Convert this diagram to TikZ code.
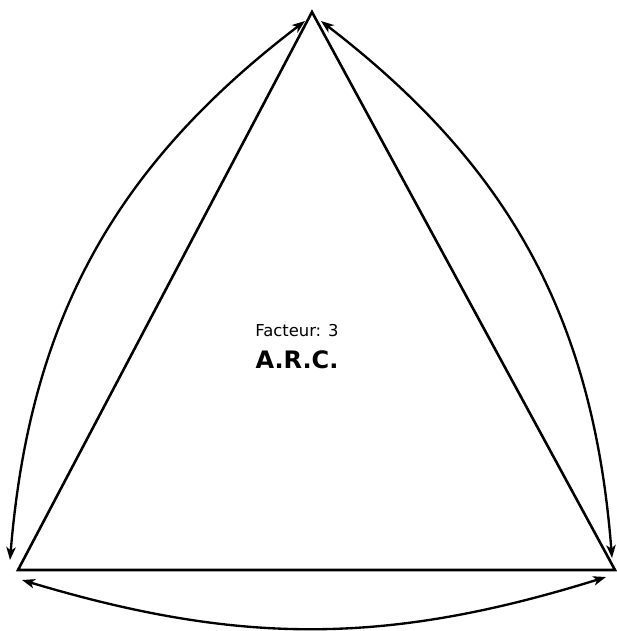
\documentclass[tikz,border=0pt]{standalone}
\usepackage{fontspec}
\setmainfont{DejaVu Sans}
\usetikzlibrary{arrows.meta}
\begin{document}
\begin{tikzpicture}[x=0.03cm, y=-0.03cm,
  edge/.style={line width=2.2pt, line join=miter},
  link/.style={line width=2pt, {Stealth[length=11pt,width=8pt,inset=3pt]}-{Stealth[length=11pt,width=8pt,inset=3pt]}}]
  \useasboundingbox (0,0) rectangle (617,631);
  % corners of the triangle
  \coordinate (apex) at (312,12);
  \coordinate (left) at (18,570);
  \coordinate (right) at (615,570);
  \draw[edge] (apex) -- (left) -- (right) -- cycle;
  % arrow ends
  \coordinate (apexL) at (305,21);
  \coordinate (apexR) at (321,21);
  \coordinate (leftT) at (10,560);
  \coordinate (leftB) at (22,580);
  \coordinate (rightT) at (612,558);
  \coordinate (rightB) at (606,577);
  \draw[link] (apexL) to[bend right=24] (leftT);
  \draw[link] (apexR) to[bend left=24] (rightT);
  \draw[link] (leftB) to[bend right=17] (rightB);
  % labels
  \node[font=\fontsize{14}{15}\selectfont] (factor) at (297,331) {Facteur: 3};
  \node[font=\fontsize{20.5}{24}\selectfont\bfseries, below=4pt] (name) at (factor.south) {A.R.C.};
\end{tikzpicture}
\end{document}
